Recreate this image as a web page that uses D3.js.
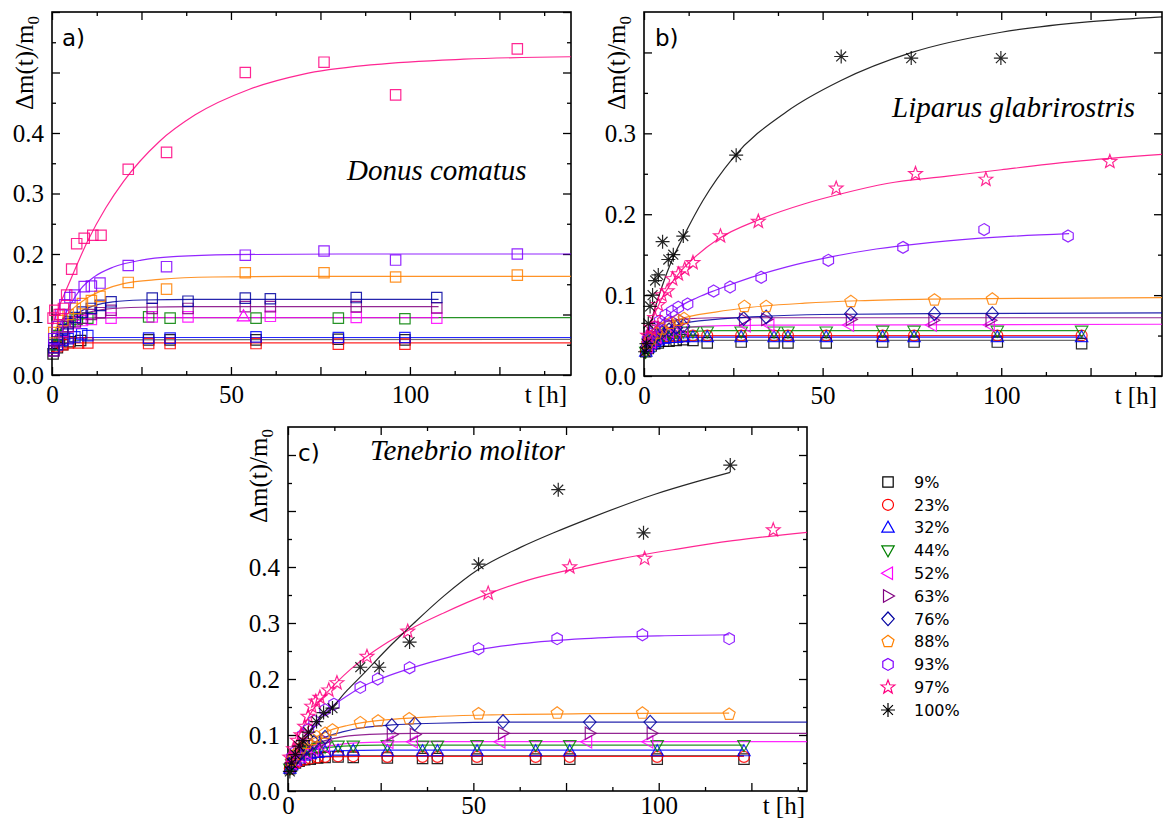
<!DOCTYPE html>
<html><head><meta charset="utf-8">
<script src="https://cdn.jsdelivr.net/npm/d3@7"></script>
<style>body{margin:0;background:#fff}</style>
</head><body><svg id="chart" width="1163" height="822"></svg>
<script>
// ---------------- DATA ----------------
const rhLabels = ['9%','23%','32%','44%','52%','63%','76%','88%','93%','97%','100%'];
const species = ['Donus comatus','Liparus glabrirostris','Tenebrio molitor'];
const panelTags = ['a)','b)','c)'];
const xTickLabels = [0,50,100];
const yTickLabelsA = [0,0.1,0.2,0.3,0.4];
const yTickLabelsB = [0,0.1,0.2,0.3];
const yTickLabelsC = [0,0.1,0.2,0.3,0.4];

// panel a) Donus comatus : measured points [t, dm/m0]
const donusPoints = [
 {rh:'9%',  pts:[[0.3,0.035],[1.5,0.045],[3,0.05],[5,0.055],[8,0.057],[27,0.058],[33,0.058],[57,0.058],[80,0.059],[98.6,0.058]]},
 {rh:'23%', pts:[[0.5,0.04],[1.5,0.047],[3,0.05],[4.6,0.053],[7.4,0.053],[10,0.053],[27,0.052],[33,0.052],[57,0.052],[80,0.051],[98.6,0.051]]},
 {rh:'32%', pts:[[0.5,0.04],[1.5,0.05],[3,0.057],[4.5,0.06],[6.4,0.063],[8.3,0.068],[10,0.065],[27,0.061],[33,0.061],[57,0.063],[80,0.062],[98.6,0.062]]},
 {rh:'44%', pts:[[0.5,0.05],[1.5,0.065],[3,0.08],[5,0.088],[7,0.092],[10,0.094],[27,0.096],[33,0.094],[57,0.094],[80,0.094],[98.6,0.093]]},
 {rh:'52%', pts:[[0.5,0.045],[1.5,0.06],[3,0.072],[4.5,0.08],[6.5,0.086],[8.5,0.09],[11,0.092],[16.5,0.094],[28,0.096],[38,0.096],[61,0.097],[85,0.095],[107.5,0.094]]},
 {rh:'63%', pts:[[0.5,0.04],[1.5,0.055],[3,0.07],[4.5,0.08],[6.5,0.088],[8.5,0.094],[11,0.1],[13.5,0.103],[16.5,0.107],[28,0.11],[38,0.11],[54,0.113],[61,0.113],[85,0.113],[107.5,0.111]]},
 {rh:'76%', pts:[[0.5,0.045],[1.5,0.06],[3,0.075],[4.5,0.085],[6.5,0.095],[8.5,0.104],[11,0.11],[13.5,0.115],[16.5,0.121],[28,0.127],[38,0.122],[54,0.127],[61,0.126],[85,0.128],[107.5,0.128]]},
 {rh:'88%', pts:[[0.5,0.07],[1.5,0.08],[3,0.09],[4.5,0.1],[6.5,0.11],[8.5,0.118],[11,0.123],[13.4,0.13],[21.3,0.153],[32,0.142],[54,0.169],[76,0.169],[96,0.162],[130,0.165]]},
 {rh:'93%', pts:[[0.5,0.06],[1.5,0.08],[2.5,0.1],[3.6,0.116],[5,0.128],[6.4,0.132],[9,0.146],[11,0.147],[13.4,0.152],[21.3,0.181],[32,0.179],[54,0.198],[76,0.205],[96,0.19],[130,0.2]]},
 {rh:'97%', pts:[[0.3,0.094],[0.8,0.107],[2,0.1],[3.2,0.11],[4.1,0.132],[5.5,0.175],[6.9,0.217],[9,0.226],[11.4,0.231],[13.7,0.231],[21.3,0.34],[32,0.368],[54,0.5],[76,0.517],[96,0.463],[130,0.539]]}
];
const donusOddTriangle = [[53.5,0.097]];
// fitted curves
const donusFits = [
 {rh:'9%',  pts:[[0,0.035],[2,0.048],[5,0.055],[10,0.058],[145,0.059]]},
 {rh:'23%', pts:[[0,0.035],[1,0.045],[3,0.051],[6,0.053],[145,0.053]]},
 {rh:'32%', pts:[[0,0.04],[2,0.055],[5,0.06],[10,0.062],[145,0.062]]},
 {rh:'44%', pts:[[0,0.055],[3,0.08],[6,0.09],[10,0.094],[20,0.095],[145,0.095]]},
 {rh:'52%', pts:[[0,0.05],[3,0.075],[6,0.087],[10,0.093],[15,0.095],[108,0.095]]},
 {rh:'63%', pts:[[0,0.045],[3,0.075],[6,0.092],[10,0.103],[15,0.109],[25,0.112],[40,0.113],[108,0.113]]},
 {rh:'76%', pts:[[0,0.045],[2,0.07],[5,0.092],[8,0.105],[12,0.115],[17,0.121],[25,0.124],[40,0.125],[108,0.125]]},
 {rh:'88%', pts:[[0,0.065],[2,0.085],[5,0.105],[10,0.128],[15,0.142],[20,0.151],[30,0.158],[45,0.162],[70,0.163],[145,0.163]]},
 {rh:'93%', pts:[[0,0.05],[2,0.08],[5,0.115],[8,0.142],[12,0.163],[17,0.178],[25,0.19],[35,0.196],[50,0.199],[80,0.2],[145,0.2]]},
 {rh:'97%', pts:[[0,0.08],[2,0.113],[5,0.155],[10,0.222],[15,0.276],[20,0.32],[30,0.386],[40,0.43],[55,0.472],[70,0.497],[90,0.513],[115,0.522],[145,0.526]]}
];

// panel b) Liparus glabrirostris
const liparusPoints = [
 {rh:'9%',  pts:[[0.5,0.03],[1.2,0.034],[2,0.037],[3,0.04],[4,0.041],[5.5,0.043],[7,0.043],[9,0.044],[11,0.045],[13.7,0.044],[17.7,0.041],[27.2,0.042],[36.4,0.041],[40.3,0.041],[51,0.041],[66.8,0.042],[75.6,0.042],[98.9,0.042],[122.5,0.04]]},
 {rh:'23%', pts:[[0.5,0.031],[1.2,0.036],[2,0.04],[3,0.043],[4,0.045],[5.5,0.047],[7,0.048],[9,0.049],[11,0.049],[13.7,0.05],[17.7,0.05],[27.2,0.05],[36.4,0.05],[40.3,0.05],[51,0.05],[66.8,0.05],[75.6,0.05],[98.9,0.05],[122.5,0.05]]},
 {rh:'32%', pts:[[0.5,0.03],[1.2,0.035],[2,0.039],[3,0.042],[4,0.044],[5.5,0.046],[7,0.047],[9,0.047],[11,0.048],[13.7,0.048],[17.7,0.048],[27.2,0.048],[36.4,0.048],[40.3,0.048],[51,0.048],[66.8,0.048],[75.6,0.048],[98.9,0.048],[122.5,0.048]]},
 {rh:'44%', pts:[[0.5,0.03],[1.2,0.036],[2,0.042],[3,0.046],[4,0.049],[5.5,0.051],[7,0.053],[9,0.054],[11,0.055],[13.7,0.055],[17.7,0.055],[27.2,0.055],[36.4,0.055],[40.3,0.055],[51,0.055],[66.8,0.056],[75.6,0.056],[98.9,0.056],[122.5,0.056]]},
 {rh:'52%', pts:[[1,0.036],[2,0.042],[3.5,0.048],[5,0.052],[7,0.055],[9,0.057],[11,0.059],[28.5,0.062],[35.1,0.063],[57.4,0.063],[80.6,0.063],[96.8,0.063]]},
 {rh:'63%', pts:[[1,0.04],[2,0.048],[3.5,0.056],[5,0.06],[7,0.064],[9,0.066],[11,0.068],[28,0.07],[34.2,0.07],[57.9,0.07],[81,0.069],[97,0.069]]},
 {rh:'76%', pts:[[1,0.038],[2,0.044],[3.5,0.05],[5,0.054],[7,0.057],[9,0.06],[11,0.062],[27.9,0.071],[34.2,0.073],[57.9,0.077],[81.3,0.077],[97.5,0.077]]},
 {rh:'88%', pts:[[1,0.04],[2,0.046],[3.5,0.053],[5,0.058],[7.2,0.065],[9.5,0.069],[11.2,0.071],[28.1,0.086],[34.2,0.086],[57.9,0.092],[81.3,0.094],[97.5,0.095]]},
 {rh:'93%', pts:[[1,0.045],[2,0.052],[3,0.06],[4.4,0.068],[6,0.075],[7.8,0.08],[9.6,0.085],[12.2,0.089],[19.5,0.105],[24.1,0.11],[32.8,0.122],[51.6,0.143],[72.5,0.159],[95.2,0.181],[118.7,0.173]]},
 {rh:'97%', pts:[[1,0.05],[2,0.06],[3,0.072],[4,0.088],[5,0.1],[6.5,0.105],[8,0.12],[9.6,0.126],[11.4,0.132],[13.7,0.14],[21.4,0.173],[32,0.191],[53.8,0.232],[76,0.25],[95.7,0.243],[130.4,0.265]]},
 {rh:'100%',pts:[[0.3,0.03],[0.7,0.04],[1.2,0.065],[1.7,0.086],[2.4,0.1],[3.1,0.118],[4,0.125],[5.2,0.166],[6.8,0.144],[8.2,0.15],[11,0.173],[25.8,0.273],[55.2,0.395],[74.8,0.393],[99.9,0.393]]}
];
const liparusFits = [
 {rh:'9%',  pts:[[0,0.03],[3,0.04],[6,0.043],[10,0.044],[123,0.044]]},
 {rh:'23%', pts:[[0,0.03],[3,0.042],[6,0.047],[10,0.049],[20,0.05],[123,0.05]]},
 {rh:'32%', pts:[[0,0.03],[3,0.04],[6,0.045],[10,0.047],[20,0.048],[123,0.048]]},
 {rh:'44%', pts:[[0,0.03],[3,0.045],[6,0.051],[10,0.054],[20,0.056],[123,0.056]]},
 {rh:'52%', pts:[[0,0.035],[3,0.048],[6,0.055],[10,0.059],[20,0.062],[40,0.063],[145,0.064]]},
 {rh:'63%', pts:[[0,0.04],[2,0.055],[5,0.065],[10,0.07],[20,0.072],[145,0.072]]},
 {rh:'76%', pts:[[0,0.035],[3,0.05],[6,0.058],[10,0.064],[20,0.07],[30,0.073],[50,0.076],[80,0.077],[145,0.078]]},
 {rh:'88%', pts:[[0,0.035],[2,0.048],[5,0.06],[10,0.07],[20,0.079],[30,0.085],[45,0.09],[60,0.093],[80,0.095],[110,0.096],[145,0.097]]},
 {rh:'93%', pts:[[0,0.035],[2,0.05],[5,0.068],[10,0.086],[15,0.097],[20,0.106],[30,0.122],[40,0.135],[52,0.147],[65,0.157],[80,0.165],[100,0.172],[119,0.176]]},
 {rh:'97%', pts:[[0,0.04],[2,0.066],[5,0.096],[10,0.128],[14,0.146],[21,0.17],[32,0.193],[45,0.213],[55,0.225],[68,0.238],[85,0.247],[100,0.255],[120,0.265],[145,0.274]]},
 {rh:'100%',pts:[[0,0.035],[1,0.05],[2.5,0.075],[5,0.11],[8,0.145],[11,0.172],[16.5,0.217],[25,0.27],[40,0.327],[55,0.365],[75,0.4],[100,0.425],[125,0.438],[145,0.444]]}
];

// panel c) Tenebrio molitor
const tenebrioPoints = [
 {rh:'9%',  pts:[[0.5,0.04],[1,0.045],[2,0.05],[3,0.053],[4.5,0.056],[6,0.057],[8,0.059],[10,0.06],[13.5,0.061],[17.6,0.06],[26.8,0.059],[36.3,0.058],[40.3,0.058],[51,0.057],[66.8,0.057],[76,0.057],[99.6,0.057],[123,0.057]]},
 {rh:'23%', pts:[[0.5,0.04],[1,0.045],[2,0.05],[3,0.053],[4.5,0.056],[6,0.058],[8,0.06],[10,0.061],[13.5,0.062],[17.6,0.062],[26.8,0.061],[36.3,0.061],[40.3,0.061],[51,0.061],[66.8,0.061],[76,0.061],[99.6,0.061],[123,0.061]]},
 {rh:'32%', pts:[[0.5,0.04],[1,0.046],[2,0.054],[3,0.058],[4.5,0.063],[6,0.066],[8,0.068],[10,0.07],[13.5,0.072],[17.6,0.072],[26.8,0.071],[36.3,0.071],[40.3,0.071],[51,0.071],[66.8,0.071],[76,0.071],[99.6,0.071],[123,0.071]]},
 {rh:'44%', pts:[[0.5,0.04],[1,0.048],[2,0.057],[3,0.063],[4.5,0.069],[6,0.073],[8,0.077],[10,0.079],[13.5,0.081],[17.6,0.081],[26.8,0.082],[36.3,0.081],[40.3,0.081],[51,0.082],[66.8,0.082],[76,0.082],[99.6,0.082],[123,0.082]]},
 {rh:'52%', pts:[[1,0.05],[2,0.055],[3.5,0.062],[5,0.068],[7,0.074],[10,0.079],[27.1,0.087],[33.7,0.088],[57.3,0.088],[80.7,0.088],[97.2,0.088]]},
 {rh:'63%', pts:[[1,0.05],[2,0.057],[3.5,0.066],[5,0.074],[7,0.082],[10,0.09],[28,0.101],[34.2,0.101],[58,0.103],[81.4,0.103],[98.1,0.103]]},
 {rh:'76%', pts:[[1,0.05],[2,0.058],[3.5,0.068],[5,0.077],[7,0.087],[10,0.096],[28,0.117],[34.2,0.12],[58,0.124],[81.4,0.123],[97.7,0.123]]},
 {rh:'88%', pts:[[1,0.055],[2,0.065],[3.5,0.077],[5,0.085],[6.5,0.092],[7.7,0.097],[10,0.103],[12,0.109],[19.5,0.122],[24.3,0.125],[32.7,0.129],[51.4,0.138],[72.6,0.139],[95.6,0.139],[119,0.137]]},
 {rh:'93%', pts:[[1,0.06],[2,0.07],[4,0.1],[5.5,0.11],[7,0.125],[10,0.145],[12.4,0.155],[19.5,0.185],[24.2,0.2],[32.8,0.22],[51.4,0.254],[72.6,0.272],[95.6,0.279],[119,0.272]]},
 {rh:'97%', pts:[[0.5,0.06],[1.5,0.075],[2.5,0.09],[3.5,0.1],[4.5,0.115],[5.4,0.133],[6.4,0.151],[7.5,0.16],[8.6,0.167],[11,0.18],[13.2,0.193],[21.3,0.24],[32.3,0.285],[54,0.353],[76,0.4],[96.2,0.415],[130.9,0.466]]},
 {rh:'100%',pts:[[0.5,0.035],[1,0.05],[2,0.065],[3,0.08],[4,0.09],[5.5,0.105],[7.7,0.124],[9.6,0.14],[12,0.148],[19.5,0.221],[24.6,0.221],[32.8,0.266],[51.4,0.405],[72.9,0.538],[95.9,0.461],[119.3,0.582]]}
];
const tenebrioFits = [
 {rh:'9%',  pts:[[0,0.045],[3,0.056],[8,0.061],[20,0.063],[123,0.063]]},
 {rh:'23%', pts:[[0,0.04],[2,0.05],[5,0.057],[10,0.061],[20,0.062],[123,0.062]]},
 {rh:'32%', pts:[[0,0.04],[3,0.058],[6,0.066],[10,0.07],[15,0.072],[25,0.073],[123,0.073]]},
 {rh:'44%', pts:[[0,0.04],[3,0.06],[6,0.071],[10,0.077],[15,0.08],[25,0.082],[123,0.082]]},
 {rh:'52%', pts:[[0,0.045],[3,0.06],[6,0.071],[10,0.079],[15,0.084],[22,0.087],[35,0.088],[140,0.088]]},
 {rh:'63%', pts:[[0,0.045],[3,0.065],[6,0.08],[10,0.09],[15,0.097],[22,0.101],[35,0.103],[140,0.103]]},
 {rh:'76%', pts:[[0,0.04],[3,0.065],[6,0.082],[10,0.096],[15,0.106],[20,0.113],[28,0.118],[40,0.121],[60,0.123],[140,0.123]]},
 {rh:'88%', pts:[[0,0.045],[2,0.065],[5,0.085],[8,0.098],[12,0.11],[16,0.117],[20,0.122],[28,0.128],[40,0.133],[55,0.136],[80,0.138],[119,0.139]]},
 {rh:'93%', pts:[[0,0.045],[2,0.07],[5,0.1],[8,0.127],[12,0.152],[16,0.17],[20,0.186],[26,0.203],[33,0.219],[44,0.24],[52,0.253],[63,0.263],[80,0.272],[100,0.277],[119,0.279]]},
 {rh:'97%', pts:[[0,0.045],[2,0.085],[4,0.113],[7,0.148],[10,0.172],[13,0.193],[17,0.218],[21.6,0.242],[27,0.266],[33,0.289],[42,0.318],[54,0.352],[65,0.377],[76,0.395],[90,0.415],[105,0.432],[120,0.447],[140,0.462]]},
 {rh:'100%',pts:[[0,0.045],[3,0.075],[6,0.105],[9,0.13],[12,0.15],[16,0.18],[20,0.207],[28,0.262],[34,0.3],[42,0.348],[51.4,0.396],[62.7,0.435],[72,0.462],[81,0.486],[99,0.53],[110,0.552],[119.3,0.569]]}
];

// ---------------- STYLE ----------------
const rhColor = {'9%':'#000000','23%':'#ff0000','32%':'#0000ff','44%':'#008000','52%':'#ff00ff',
  '63%':'#800080','76%':'#0000a0','88%':'#ff8000','93%':'#8000ff','97%':'#ff0080','100%':'#000000'};
const fitColor = Object.assign({}, rhColor, {'9%':'#555555'});
const rhShape = {'9%':'square','23%':'circle','32%':'up','44%':'down','52%':'left','63%':'right',
  '76%':'diamond','88%':'pentagon','93%':'hexagon','97%':'star','100%':'asterisk'};

function poly(p){ return 'M' + p.map(q => q[0].toFixed(2)+','+q[1].toFixed(2)).join('L') + 'Z'; }
function regular(n, r, rot){ const a=[]; for(let i=0;i<n;i++){const t=rot+i*2*Math.PI/n; a.push([r*Math.cos(t), r*Math.sin(t)]);} return a; }
function shapePath(shape){
  switch(shape){
    case 'square': return 'M-5.2,-5.2H5.2V5.2H-5.2Z';
    case 'circle': return 'M5.5,0A5.5,5.5 0 1,1 -5.5,0A5.5,5.5 0 1,1 5.5,0Z';
    case 'up': return poly([[0,-6.5],[6.2,4.5],[-6.2,4.5]]);
    case 'down': return poly([[0,6.5],[6.2,-4.5],[-6.2,-4.5]]);
    case 'left': return poly([[-6.5,0],[4.5,-6.2],[4.5,6.2]]);
    case 'right': return poly([[6.5,0],[-4.5,-6.2],[-4.5,6.2]]);
    case 'diamond': return poly([[0,-6.8],[6.2,0],[0,6.8],[-6.2,0]]);
    case 'pentagon': return poly(regular(5,6.3,-Math.PI/2));
    case 'hexagon': return poly(regular(6,6,-Math.PI/2));
    case 'star': { const a=[]; for(let i=0;i<10;i++){const r=i%2?3:7.2; const t=-Math.PI/2+i*Math.PI/5; a.push([r*Math.cos(t), r*Math.sin(t)]);} return poly(a); }
    case 'asterisk': { const r=7, d=r*0.707; return `M0,${-r}V${r}M${-d},${-d}L${d},${d}M${-d},${d}L${d},${-d}M${-r},0H${r}`; }
  }
}

// ---------------- LAYOUT ----------------
const svg = d3.select('#chart');
svg.append('rect').attr('width',1163).attr('height',822).attr('fill','#fff');
const serif = "'Liberation Serif','Times New Roman',serif";
const sans = "'DejaVu Sans',Verdana,sans-serif";

const panels = [
  {left:52, right:571, top:12, bottom:375, xMax:145, yMax:0.6, yLabels:yTickLabelsA, pts:donusPoints, fits:donusFits, allSquares:true, xPad:10,
   tag:panelTags[0], tagX:62, tagY:46, sp:species[0], spX:347, spY:180, titleX:33, titleY:110, tEnd:567},
  {left:644, right:1162, top:12, bottom:376, xMax:145, yMax:0.45, yLabels:yTickLabelsB, pts:liparusPoints, fits:liparusFits, allSquares:false, xPad:10,
   tag:panelTags[1], tagX:655, tagY:46, sp:species[1], spX:892, spY:117, titleX:625, titleY:110, tEnd:1157},
  {left:288, right:807, top:427, bottom:791, xMax:140, yMax:0.65, yLabels:yTickLabelsC, pts:tenebrioPoints, fits:tenebrioFits, allSquares:false, xPad:5,
   tag:panelTags[2], tagX:298, tagY:461, sp:species[2], spX:370, spY:460, titleX:267, titleY:523, tEnd:805}
];

function eqv(a,b){ return Math.abs(a-b) < 1e-6; }

panels.forEach((p, pi) => {
  const x = d3.scaleLinear().domain([0,p.xMax]).range([p.left,p.right]);
  const y = d3.scaleLinear().domain([0,p.yMax]).range([p.bottom,p.top]);
  const g = svg.append('g');

  const xMajor = d3.range(0, p.xMax+1e-6, 25);
  const xMinor = d3.range(12.5, p.xMax, 25);
  const yMajor = d3.range(0, p.yMax+1e-6, 0.1).map(v=>+v.toFixed(2));
  const yMinor = d3.range(0.05, p.yMax-1e-6, 0.1).map(v=>+v.toFixed(2));

  function styleAxis(sel){ sel.select('.domain').remove();
    sel.attr('font-family',null).attr('font-size',null);
    sel.selectAll('line').attr('stroke','#000').attr('stroke-width',1.3);
    sel.selectAll('text').attr('fill','#000').style('font-family',serif).style('font-size','25px'); }

  // bottom
  g.append('g').attr('transform',`translate(0,${p.bottom})`)
    .call(d3.axisBottom(x).tickValues(xMajor).tickSize(-8).tickPadding(p.xPad)
      .tickFormat(d => xTickLabels.some(v=>eqv(v,d)) ? d3.format('d')(d) : '')).call(styleAxis);
  g.append('g').attr('transform',`translate(0,${p.bottom})`)
    .call(d3.axisBottom(x).tickValues(xMinor).tickSize(-4).tickFormat('')).call(styleAxis);
  // top
  g.append('g').attr('transform',`translate(0,${p.top})`)
    .call(d3.axisTop(x).tickValues(xMajor).tickSize(-8).tickFormat('')).call(styleAxis);
  g.append('g').attr('transform',`translate(0,${p.top})`)
    .call(d3.axisTop(x).tickValues(xMinor).tickSize(-4).tickFormat('')).call(styleAxis);
  // left
  g.append('g').attr('transform',`translate(${p.left},0)`)
    .call(d3.axisLeft(y).tickValues(yMajor).tickSize(-8).tickPadding(8)
      .tickFormat(d => p.yLabels.some(v=>eqv(v,d)) ? d3.format('.1f')(d) : '')).call(styleAxis);
  g.append('g').attr('transform',`translate(${p.left},0)`)
    .call(d3.axisLeft(y).tickValues(yMinor).tickSize(-4).tickFormat('')).call(styleAxis);
  // right
  g.append('g').attr('transform',`translate(${p.right},0)`)
    .call(d3.axisRight(y).tickValues(yMajor).tickSize(-8).tickFormat('')).call(styleAxis);
  g.append('g').attr('transform',`translate(${p.right},0)`)
    .call(d3.axisRight(y).tickValues(yMinor).tickSize(-4).tickFormat('')).call(styleAxis);

  // frame
  g.append('rect').attr('x',p.left).attr('y',p.top).attr('width',p.right-p.left).attr('height',p.bottom-p.top)
    .attr('fill','none').attr('stroke','#000').attr('stroke-width',1.6);

  // x title
  g.append('text').attr('x',p.tEnd).attr('y',p.bottom+p.xPad+17.75).attr('text-anchor','end')
    .style('font-family',serif).style('font-size','25px').text('t [h]');
  // y title
  const yt = g.append('text').attr('transform',`translate(${p.titleX},${p.titleY}) rotate(-90)`)
    .style('font-family',serif).style('font-size','25px');
  yt.append('tspan').text('\u0394m(t)/m');
  yt.append('tspan').style('font-size','17px').attr('dy',6).text('0');
  // tag
  g.append('text').attr('x',p.tagX).attr('y',p.tagY).style('font-family',sans).style('font-size','23px').text(p.tag);
  // species
  g.append('text').attr('x',p.spX).attr('y',p.spY).style('font-family',serif).style('font-style','italic')
    .style('font-size','29px').text(p.sp);

  const line = d3.line().x(d=>x(d[0])).y(d=>y(d[1])).curve(d3.curveMonotoneX);
  const plot = g.append('g');
  p.fits.forEach(f => {
    plot.append('path').attr('d', line(f.pts)).attr('fill','none')
      .attr('stroke', fitColor[f.rh]).attr('stroke-width',1.2).attr('stroke-opacity',0.85);
  });
  p.pts.forEach(s => {
    const shape = p.allSquares ? 'square' : rhShape[s.rh];
    plot.selectAll(null).data(s.pts).enter().append('path')
      .attr('transform', d=>`translate(${x(d[0])},${y(d[1])})`)
      .attr('d', shapePath(shape)).attr('fill','none')
      .attr('stroke', rhColor[s.rh]).attr('stroke-width',1.2).attr('stroke-opacity',0.85);
  });
  if (pi === 0) {
    plot.selectAll(null).data(donusOddTriangle).enter().append('path')
      .attr('transform', d=>`translate(${x(d[0])},${y(d[1])})`)
      .attr('d', shapePath('up')).attr('fill','none').attr('stroke',rhColor['52%']).attr('stroke-width',1.2);
  }
});

// legend
const lg = svg.append('g');
rhLabels.forEach((rh,i) => {
  const yy = 482 + i*22.8;
  lg.append('path').attr('transform',`translate(888,${yy})`).attr('d',shapePath(rhShape[rh]))
    .attr('fill','none').attr('stroke',rhColor[rh]).attr('stroke-width',1.2);
  lg.append('text').attr('x',914).attr('y',yy).attr('dy','0.36em').style('font-family',sans).style('font-size','16px')
    .attr('fill','#000').text(rh);
});
</script>
</body></html>
